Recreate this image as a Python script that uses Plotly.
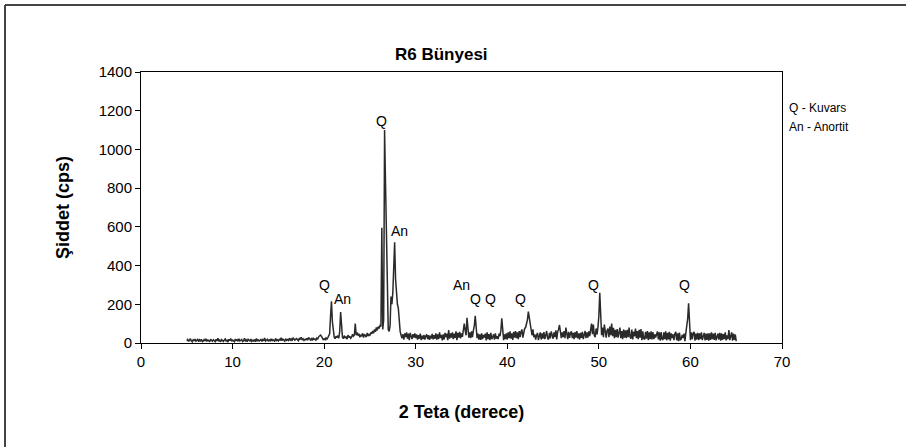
import plotly.graph_objects as go

# XRD scan: start angle, step (degrees 2-theta) and intensities (cps)
start_angle = 5.0
step = 0.1
intensity = [
    # 5.0 - 5.9
    12, 18, 8, 15, 22, 10, 6, 17, 13, 20,
    9, 14, 21, 7, 16, 11, 19, 5, 13, 18,
    10, 22, 8, 15, 12, 6, 20, 14, 9, 17,
    13, 7, 19, 11, 24, 9, 15, 6, 18, 12,
    8, 16, 21, 10, 14, 5, 19, 12, 23, 9,
    # 10.0
    15, 11, 7, 20, 13, 17, 9, 22, 10, 14,
    18, 8, 12, 25, 11, 16, 7, 19, 13, 10,
    21, 9, 14, 11, 18, 6, 23, 12, 16, 10,
    13, 20, 8, 17, 11, 26, 10, 15, 19, 9,
    16, 12, 22, 10, 18, 14, 8, 24, 13, 17,
    # 15.0
    11, 19, 15, 27, 12, 20, 16, 10, 22, 14,
    18, 13, 25, 15, 21, 11, 28, 17, 14, 20,
    23, 16, 12, 26, 18, 30, 15, 21, 13, 19,
    17, 24, 14, 29, 20, 16, 22, 13, 27, 18,
    21, 15, 25, 19, 32, 38, 41, 35, 24, 18,
    # 20.0
    22, 17, 26, 20, 28, 35, 48, 140, 215, 110,
    45, 30, 22, 35, 28, 38, 25, 60, 160, 75,
    30, 22, 38, 26, 33, 20, 41, 28, 35, 24,
    30, 45, 36, 42, 100, 40, 55, 38, 48, 30,
    42, 35, 50, 28, 45, 38, 30, 52, 36, 44,
    # 25.0
    40, 55, 48, 62, 50, 70, 58, 80, 65, 85,
    75, 90, 85, 595, 70, 120, 1100, 830, 560, 150,
    70, 60, 90, 240, 200, 260, 380, 520, 330, 250,
    200, 180, 110, 60, 40, 25, 45, 18, 50, 30,
    55, 22, 48, 15, 52, 40, 20, 46, 28, 50,
    # 30.0
    25, 44, 18, 40, 22, 48, 15, 38, 20, 42,
    18, 36, 45, 20, 40, 16, 38, 23, 47, 19,
    40, 22, 50, 18, 44, 20, 55, 26, 42, 14,
    45, 18, 52, 30, 48, 15, 67, 22, 50, 28,
    55, 20, 48, 26, 60, 15, 52, 28, 58, 24,
    # 35.0
    50, 32, 75, 100, 65, 40, 130, 50, 28, 55,
    25, 60, 30, 65, 90, 140, 50, 25, 48, 18,
    44, 16, 50, 20, 42, 28, 48, 14, 55, 20,
    46, 15, 52, 20, 30, 45, 18, 50, 22, 35,
    20, 48, 35, 65, 128, 40, 15, 45, 20, 50,
    # 40.0
    18, 55, 25, 60, 22, 50, 16, 58, 28, 62,
    25, 55, 20, 62, 30, 58, 70, 28, 65, 75,
    80, 95, 120, 162, 130, 100, 85, 40, 70, 30,
    45, 18, 40, 52, 15, 48, 55, 18, 50, 22,
    56, 20, 48, 62, 25, 18, 52, 24, 60, 28,
    # 45.0
    22, 55, 30, 65, 18, 58, 70, 93, 40, 25,
    55, 30, 62, 25, 80, 32, 20, 58, 26, 50,
    60, 25, 52, 20, 56, 28, 62, 24, 50, 18,
    52, 26, 58, 20, 50, 62, 25, 55, 28, 60,
    35, 70, 100, 45, 95, 40, 30, 75, 45, 80,
    # 50.0
    140, 260, 110, 40, 80, 30, 95, 50, 28, 65,
    75, 30, 85, 40, 100, 35, 78, 25, 68, 30,
    72, 28, 65, 80, 25, 62, 20, 70, 28, 66,
    25, 68, 30, 80, 32, 22, 70, 18, 58, 35,
    75, 25, 62, 20, 68, 28, 72, 15, 60, 22,
    # 55.0
    18, 58, 22, 62, 15, 55, 20, 60, 18, 56,
    20, 45, 28, 52, 60, 18, 55, 12, 56, 20,
    16, 55, 20, 60, 14, 52, 18, 58, 12, 50,
    25, 45, 15, 48, 58, 14, 50, 10, 54, 17,
    20, 42, 25, 48, 10, 52, 80, 125, 205, 85,
    # 60.0
    15, 55, 20, 50, 58, 12, 48, 18, 52, 15,
    50, 20, 55, 15, 38, 52, 14, 48, 16, 50,
    12, 50, 16, 55, 20, 48, 16, 52, 14, 40,
    48, 18, 52, 12, 50, 16, 46, 20, 55, 14,
    40, 20, 67, 15, 38, 55, 12, 48, 16, 44,
    # 65.0
    10,
]
two_theta = [round(start_angle + i * step, 2) for i in range(len(intensity))]

# Peak labels (phase, 2-theta, cps)
peak_labels = ["Q", "An", "Q", "An", "An", "Q", "Q", "Q", "Q", "Q"]
peak_label_x = [26.3, 28.2, 20.0, 22.05, 35.05, 36.5, 38.2, 41.4, 49.4, 59.3]
peak_label_y = [1145, 580, 300, 228, 300, 228, 228, 228, 300, 300]

title_text = "R6 Bünyesi"
x_title = "2 Teta (derece)"
y_title = "Şiddet (cps)"
legend_lines = ["Q - Kuvars", "An - Anortit"]

FONT = "Liberation Sans, Arial, sans-serif"

fig = go.Figure()
fig.add_trace(go.Scatter(
    x=two_theta, y=intensity, mode="lines",
    line=dict(color="#2a2a2a", width=1.5),
    showlegend=False, hoverinfo="skip",
))

for lab, lx, ly in zip(peak_labels, peak_label_x, peak_label_y):
    fig.add_annotation(x=lx, y=ly, xref="x", yref="y", text=lab,
                       showarrow=False, font=dict(family=FONT, size=14, color="#000"))

fig.add_annotation(x=(441 - 141) / 641, y=(343 - 43) / 271, xref="paper", yref="paper",
                   text="<b>" + title_text + "</b>", showarrow=False,
                   font=dict(family=FONT, size=17, color="#000"))

for i, t in enumerate(legend_lines):
    fig.add_annotation(x=(787 - 141) / 641, y=(343 - 99 - 19 * i) / 271,
                       xref="paper", yref="paper", text=t, showarrow=False,
                       xanchor="left", font=dict(family=FONT, size=12, color="#000"))

# outer chart border (only top and left edges are inside the picture)
top_y = (343 - 5) / 271
left_x = (5 - 141) / 641
fig.add_shape(type="line", xref="paper", yref="paper",
              x0=left_x, x1=(906 - 141) / 641, y0=top_y, y1=top_y,
              line=dict(color="#444", width=2))
fig.add_shape(type="line", xref="paper", yref="paper",
              x0=left_x, x1=left_x, y0=top_y, y1=(343 - 447) / 271,
              line=dict(color="#444", width=2))

fig.update_layout(
    width=906, height=447,
    margin=dict(l=141, r=124, t=72, b=104),
    paper_bgcolor="white", plot_bgcolor="white",
    font=dict(family=FONT, size=14, color="#000"),
)
fig.update_xaxes(
    range=[0, 70], dtick=10, showgrid=False, zeroline=False,
    showline=True, linecolor="#000", linewidth=1, mirror=True,
    ticks="outside", ticklen=5, tickcolor="#000",
    tickfont=dict(family=FONT, size=15),
    title=dict(text="<b>" + x_title + "</b>", font=dict(family=FONT, size=18), standoff=36),
)
fig.update_yaxes(
    range=[0, 1400], dtick=200, showgrid=False, zeroline=False,
    showline=True, linecolor="#000", linewidth=1, mirror=True,
    ticks="outside", ticklen=5, tickcolor="#000",
    tickfont=dict(family=FONT, size=15),
    title=dict(text="<b>" + y_title + "</b>", font=dict(family=FONT, size=18), standoff=24),
)

fig.write_html(
    "out.html",
    post_script="document.documentElement.style.overflow='hidden';document.body.style.overflow='hidden';document.body.style.margin='0';",
)
